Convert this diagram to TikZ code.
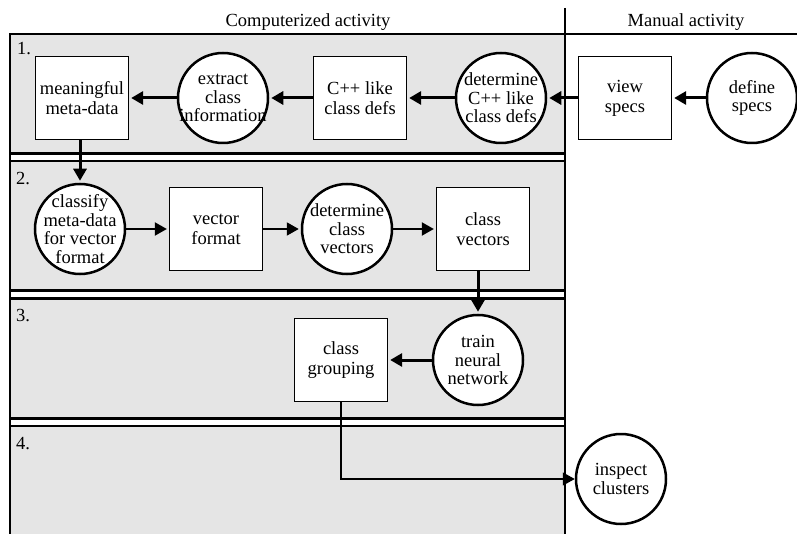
\documentclass[tikz,border=0pt]{standalone}
\usepackage{fontspec}
\setmainfont{Liberation Serif}
\usetikzlibrary{arrows.meta}

\begin{document}
\begin{tikzpicture}[
    x=1pt, y=-1pt,
    font=\fontsize{18.5}{20}\selectfont,
    box/.style={
        draw,
        line width=1.3pt,
        fill=white,
        minimum width=93pt,
        minimum height=83pt,
        inner sep=0pt,
        align=center
    },
    circ/.style={
        draw,
        circle,
        line width=2.5pt,
        fill=white,
        minimum size=90pt,
        inner sep=0pt,
        label={[align=center, font=\fontsize{18.5}{18.5}\selectfont]center:#1}
    },
    arr/.style={-{Triangle[length=12pt,width=13pt]}, line width=3pt, shorten >=2pt},
    arrmid/.style={arr, line width=2pt},
    arrthin/.style={arr, line width=1.2pt, shorten >=0pt},
    band/.style={draw, fill=white, line width=2.8pt},
    lane/.style={anchor=base west, inner sep=0pt}
]
    \useasboundingbox (0,0) rectangle (797,534);

    % swimlanes
    \fill[black!10] (10,34) rectangle (565,534);
    \draw[band] (10,153.5) rectangle (565,161);
    \draw[band] (10,290.5) rectangle (565,298.5);
    \draw[band] (10,418.5) rectangle (565,426);
    \draw[line width=1.2pt] (10,534) -- (10,34) -- (797,34);
    \draw[line width=1.2pt] (565,8) -- (565,534);

    \node[anchor=base] (hcomp) at (308,27) {Computerized activity};
    \node[anchor=base] (hman) at (686,27) {Manual activity};

    \node[lane] (lane1) at (17,55) {1.};
    \node[lane] (lane2) at (16,185) {2.};
    \node[lane] (lane3) at (16,321) {3.};
    \node[lane] (lane4) at (16,449) {4.};

    % step 1
    \node[box] (meta) at (82,98) {meaningful\\meta-data};
    \node[circ={extract\\class\\information}] (extract) at (223,98) {};
    \node[box] (cppdefs) at (360,98) {C++ like\\class defs};
    \node[circ={determine\\C++ like\\class defs}] (detcpp) at (501,98) {};
    \node[box] (view) at (625,98) {view\\specs};
    \node[circ={define\\specs}] (define) at (752,98) {};

    % step 2
    \node[circ={classify\\meta-data\\for vector\\format}] (classify) at (80,229) {};
    \node[box] (vecfmt) at (216,229) {vector\\format};
    \node[circ={determine\\class\\vectors}] (detvec) at (347,229) {};
    \node[box] (cvec) at (483,229) {class\\vectors};

    % step 3
    \node[box] (grp) at (341,360) {class\\grouping};
    \node[circ={train\\neural\\network}] (train) at (478,360) {};

    % step 4
    \node[circ={inspect\\clusters}] (inspect) at (621,479) {};

    \draw[arr] (define) -- (view);
    \draw[arr] (view) -- (detcpp);
    \draw[arr] (detcpp) -- (cppdefs);
    \draw[arr] (cppdefs) -- (extract);
    \draw[arr] (extract) -- (meta);
    \draw[arr] (meta.south -| classify.north) -- (classify);

    \draw[arrmid] (classify) -- (vecfmt);
    \draw[arrmid] (vecfmt) -- (detvec);
    \draw[arrmid] (detvec) -- (cvec);
    \draw[arr] (cvec.south -| train.north) -- (train);

    \draw[arr] (train) -- (grp);
    \draw[arrthin] (grp.south) |- (inspect);
\end{tikzpicture}
\end{document}
